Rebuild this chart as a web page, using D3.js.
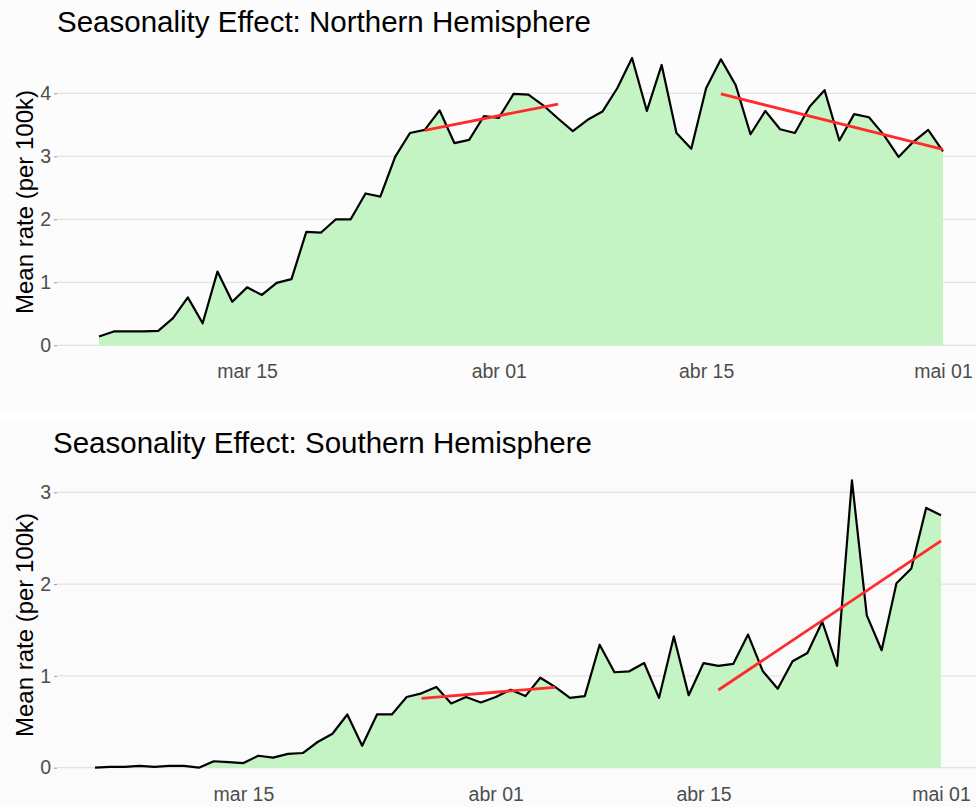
<!DOCTYPE html>
<html>
<head>
<meta charset="utf-8">
<script src="https://cdn.jsdelivr.net/npm/d3@7"></script>
<style>
body { margin: 0; background: #fff; }
svg { display: block; font-family: "Liberation Sans", Arial, sans-serif; }
</style>
</head>
<body>
<div id="chart"></div>
<script>
// daily dates, 2020-03-05 .. 2020-05-01
const startDate = '2020-03-05';
const tickDates = ['2020-03-15', '2020-04-01', '2020-04-15', '2020-05-01'];

const northRate = [
  0.14, 0.22, 0.22, 0.22, 0.23, 0.43, 0.76, 0.35, 1.17, 0.69,
  0.92, 0.80, 0.99, 1.05, 1.80, 1.79, 2.00, 2.00, 2.41, 2.36,
  2.99, 3.37, 3.42, 3.73, 3.21, 3.26, 3.64, 3.61, 3.99, 3.98,
  3.81, 3.60, 3.40, 3.58, 3.71, 4.08, 4.56, 3.72, 4.45, 3.37,
  3.12, 4.08, 4.54, 4.13, 3.35, 3.72, 3.43, 3.37, 3.79, 4.05,
  3.25, 3.67, 3.62, 3.34, 2.99, 3.23, 3.42, 3.08
];
const southRate = [
  0.00, 0.01, 0.01, 0.02, 0.01, 0.02, 0.02, 0.00, 0.07, 0.06,
  0.05, 0.13, 0.11, 0.15, 0.16, 0.28, 0.37, 0.58, 0.24, 0.58,
  0.58, 0.77, 0.81, 0.88, 0.70, 0.77, 0.71, 0.77, 0.85, 0.78,
  0.98, 0.88, 0.76, 0.78, 1.34, 1.04, 1.05, 1.14, 0.76, 1.43,
  0.79, 1.14, 1.11, 1.13, 1.45, 1.05, 0.86, 1.16, 1.25, 1.59,
  1.11, 3.13, 1.66, 1.28, 2.01, 2.17, 2.83, 2.75
];

// trend segments: [startDate, endDate, startValue, endValue]
const northTrend = [
  ['2020-03-27', '2020-04-05', 3.41, 3.83],
  ['2020-04-16', '2020-05-01', 3.99, 3.11]
];
const southTrend = [
  ['2020-03-27', '2020-04-05', 0.756, 0.876],
  ['2020-04-16', '2020-05-01', 0.846, 2.47]
];

const northTicks = [0, 1, 2, 3, 4];
const southTicks = [0, 1, 2, 3];

const W = 976, H = 807;
const parse = d3.utcParse('%Y-%m-%d');
const pt = d3.timeFormatLocale({
  dateTime: '%d/%m/%Y %H:%M:%S', date: '%d/%m/%Y', time: '%H:%M:%S',
  periods: ['AM', 'PM'],
  days: ['domingo','segunda','terça','quarta','quinta','sexta','sábado'],
  shortDays: ['dom','seg','ter','qua','qui','sex','sáb'],
  months: ['janeiro','fevereiro','março','abril','maio','junho','julho','agosto','setembro','outubro','novembro','dezembro'],
  shortMonths: ['jan','fev','mar','abr','mai','jun','jul','ago','set','out','nov','dez']
});
const fmt = pt.utcFormat('%b %d');

const root = d3.select('#chart').append('svg')
  .attr('width', W).attr('height', H);

root.append('rect').attr('width', W).attr('height', 413).attr('fill', '#fcfcfc');
root.append('rect').attr('y', 421).attr('width', W).attr('height', H - 421).attr('fill', '#fbfbfb');

function panel(cfg) {
  const g = root.append('g');
  const dates = cfg.values.map((v, i) => d3.utcDay.offset(parse(startDate), i));
  const data = cfg.values.map((v, i) => [dates[i], v]);

  const x = d3.scaleUtc()
    .domain([parse(startDate), dates[dates.length - 1]])
    .range(cfg.xRange);
  const y = d3.scaleLinear()
    .domain([0, cfg.ticks[cfg.ticks.length - 1]])
    .range(cfg.yRange);

  // grid
  g.selectAll('line.grid').data(cfg.ticks).enter().append('line')
    .attr('x1', 57).attr('x2', W)
    .attr('y1', d => y(d)).attr('y2', d => y(d))
    .attr('stroke', '#dcdcdc').attr('stroke-width', 1);

  // y axis
  const ya = d3.axisLeft(y).tickValues(cfg.ticks).tickFormat(d3.format('d'))
    .tickSize(3).tickPadding(3);
  const gy = g.append('g').attr('transform', 'translate(57,0)').call(ya);
  gy.select('.domain').remove();
  gy.selectAll('line').attr('stroke', '#999');
  gy.selectAll('text').attr('fill', '#4d4d4d').style('font-size', '19.5px');

  // x axis
  const xa = d3.axisBottom(x).tickValues(tickDates.map(parse)).tickFormat(fmt).tickSize(0).tickPadding(0);
  const gx = g.append('g').attr('transform', 'translate(0,' + (y(0) + 19) + ')').call(xa);
  gx.select('.domain').remove();
  gx.selectAll('text').attr('fill', '#4d4d4d').style('font-size', '19.5px');

  // area + line
  g.append('path').datum(data)
    .attr('fill', '#c4f3c4')
    .attr('d', d3.area().x(d => x(d[0])).y0(y(0)).y1(d => y(d[1])));
  g.append('path').datum(data)
    .attr('fill', 'none').attr('stroke', '#000').attr('stroke-width', 2.2)
    .attr('stroke-linejoin', 'round')
    .attr('d', d3.line().x(d => x(d[0])).y(d => y(d[1])));

  // trends
  g.selectAll('line.trend').data(cfg.trend).enter().append('line')
    .attr('x1', d => x(parse(d[0]))).attr('x2', d => x(parse(d[1])))
    .attr('y1', d => y(d[2])).attr('y2', d => y(d[3]))
    .attr('stroke', '#ff2a2a').attr('stroke-width', 2.8);

  // titles
  g.append('text').attr('x', cfg.titleX).attr('y', cfg.titleY)
    .attr('fill', '#000').style('font-size', '29.5px')
    .text(cfg.title);
  g.append('text')
    .attr('transform', 'translate(33,' + cfg.labelY + ') rotate(-90)')
    .attr('text-anchor', 'middle').attr('fill', '#000')
    .style('font-size', '24px')
    .text('Mean rate (per 100k)');
}

panel({
  title: 'Seasonality Effect: Northern Hemisphere',
  values: northRate, trend: northTrend, ticks: northTicks,
  xRange: [99, 943], yRange: [345.3, 93.3],
  titleX: 57, titleY: 32, labelY: 202
});
panel({
  title: 'Seasonality Effect: Southern Hemisphere',
  values: southRate, trend: southTrend, ticks: southTicks,
  xRange: [95, 941], yRange: [767.7, 492.3],
  titleX: 53, titleY: 453, labelY: 625
});
</script>
</body>
</html>
